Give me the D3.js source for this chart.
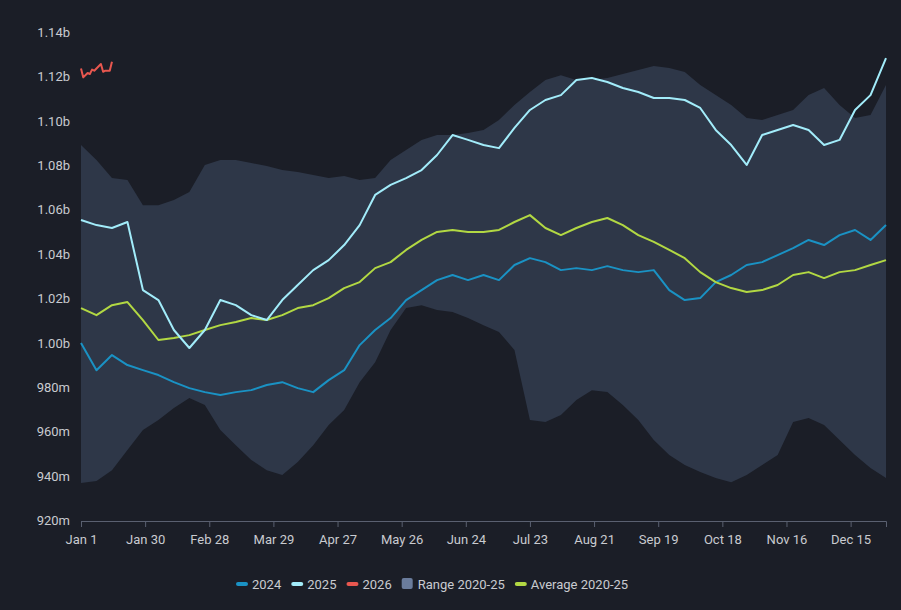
<!DOCTYPE html>
<html>
<head>
<meta charset="utf-8">
<script src="https://cdn.jsdelivr.net/npm/d3@7"></script>
<style>
  body { margin: 0; background: #1b1e27; }
  svg { display: block; font-family: Roboto, sans-serif; }
</style>
</head>
<body>
<svg id="chart" width="901" height="610"></svg>
<script>
// weekly points (day = 7 * i), values in millions
var rangeHigh = [1089.5,1082.7,1074.6,1073.7,1062.4,1062.4,1064.7,1068.3,1080.5,1082.7,1082.7,1081.4,1080,1078.2,1077.3,1076,1074.6,1075.5,1073.7,1074.6,1082.7,1087.2,1091.8,1094,1094,1094.9,1096.3,1100.8,1107.5,1113.4,1118.8,1121,1118.8,1118.8,1119.7,1121.5,1123.3,1125.1,1124.2,1122.4,1116.6,1112,1107.5,1101.7,1100.8,1103,1105.3,1112,1115.2,1107.5,1101.7,1103,1116.6];
var rangeLow = [937.1,938.0,942.9,952.0,961.0,965.5,970.9,975.4,972.3,961.0,954.2,947.5,942.9,940.7,946.6,954.2,963.3,970.0,982.6,991.6,1006.1,1016.0,1017.3,1015.1,1014.2,1011.5,1008.3,1005.2,997.1,965.5,964.6,967.8,974.5,979.0,978.1,972.3,965.5,956.5,949.7,945.2,942.1,939.4,937.5,940.7,945.2,949.7,964.6,966.4,963.3,956.5,949.7,943.9,939.4];
var y2024 = [1000.2,988.0,994.8,990.3,988.0,985.8,982.6,979.9,978.1,976.8,978.1,979.0,981.3,982.6,979.9,978.1,983.5,988.0,999.3,1006.1,1011.5,1019.6,1024.1,1028.6,1030.9,1028.6,1030.9,1028.6,1035.4,1038.5,1036.7,1033.1,1034.0,1033.1,1034.9,1033.1,1032.2,1033.1,1024.1,1019.6,1020.5,1027.7,1030.9,1035.4,1036.7,1039.9,1043.0,1046.7,1044.4,1048.9,1051.2,1046.7,1053.4];
var y2025 = [1055.7,1053.4,1052.1,1054.8,1024.1,1019.6,1006.1,998.0,1006.1,1019.6,1017.3,1012.8,1010.6,1019.6,1026.4,1033.1,1037.6,1044.4,1053.4,1067.0,1071.5,1074.6,1078.2,1085.0,1094.0,1091.8,1089.5,1088.1,1097.2,1105.3,1109.8,1112.0,1118.8,1119.7,1117.9,1115.2,1113.4,1110.7,1110.7,1109.8,1106.2,1096.3,1089.5,1080.5,1094.0,1096.3,1098.5,1096.3,1089.5,1091.8,1105.3,1112.0,1128.7];
var avg = [1016.0,1012.8,1017.3,1018.7,1010.6,1001.6,1002.5,1003.8,1006.1,1008.3,1009.7,1011.5,1010.6,1012.8,1016.0,1017.3,1020.5,1025.0,1027.7,1034.0,1036.7,1042.2,1046.7,1050.3,1051.2,1050.3,1050.3,1051.2,1054.8,1057.9,1052.1,1048.9,1052.1,1054.8,1056.6,1053.4,1048.9,1045.8,1042.2,1038.5,1032.2,1027.7,1025.0,1023.2,1024.1,1026.4,1030.9,1032.2,1029.5,1032.2,1033.1,1035.4,1037.6];
var days2026 = [0,1,3,4,5,6,8,9,10,11,13,14];
var y2026 = [1124,1120,1122,1121.5,1123.5,1123,1125,1126,1122.5,1123,1123,1127];
var tickDays = [0,29,58,87,116,145,174,203,232,261,290,319,348];
var tickLabels = ["Jan 1","Jan 30","Feb 28","Mar 29","Apr 27","May 26","Jun 24","Jul 23","Aug 21","Sep 19","Oct 18","Nov 16","Dec 15"];
var yTicks = [920,940,960,980,1000,1020,1040,1060,1080,1100,1120,1140];

var svg = d3.select("#chart");
var x = d3.scaleLinear().domain([0, 364]).range([81, 886]);
var y = d3.scaleLinear().domain([920, 1140]).range([521, 33]);
var wk = function (d, i) { return x(i * 7); };

svg.append("path")
    .datum(rangeHigh)
    .attr("fill", "#2e3748")
    .attr("d", d3.area().x(wk).y0(function (d, i) { return y(rangeLow[i]); }).y1(function (d) { return y(d); }));

function line(data, color, xs) {
    svg.append("path").datum(data)
        .attr("fill", "none").attr("stroke", color).attr("stroke-width", 2)
        .attr("stroke-linejoin", "round")
        .attr("d", d3.line().x(xs || wk).y(function (d) { return y(d); }));
}
line(y2024, "#1a92c4");
line(avg, "#b2d843");
line(y2025, "#a2ecfa");
line(y2026, "#e8574f", function (d, i) { return x(days2026[i]); });

// axes
var xAxis = svg.append("g").attr("transform", "translate(0,521)")
    .call(d3.axisBottom(x).tickValues(tickDays).tickSize(6).tickPadding(8)
        .tickFormat(function (d, i) { return tickLabels[i]; }));
xAxis.select(".domain").attr("stroke", "#5a6070");
xAxis.selectAll(".tick line").attr("stroke", "#5a6070");
xAxis.selectAll("text").attr("fill", "#c9cbd0").attr("font-size", 13).attr("font-family", "Roboto, sans-serif");

svg.append("g").selectAll("text").data(yTicks).join("text")
    .attr("x", 70).attr("y", function (d) { return y(d) + 4; })
    .attr("text-anchor", "end").attr("fill", "#c9cbd0").attr("font-size", 13)
    .text(function (d) { return d >= 1000 ? (d / 1000).toFixed(2) + "b" : d + "m"; });

// legend
var legend = [
    {name: "2024", color: "#1a92c4", sq: false},
    {name: "2025", color: "#a2ecfa", sq: false},
    {name: "2026", color: "#e8574f", sq: false},
    {name: "Range 2020-25", color: "#6a7c9c", sq: true},
    {name: "Average 2020-25", color: "#b2d843", sq: false}
];
var lg = svg.append("g").attr("font-size", 13).attr("fill", "#c9cbd0");
var lx = 236;
legend.forEach(function (d) {
    if (d.sq) lg.append("rect").attr("x", lx).attr("y", 578).attr("width", 11).attr("height", 11).attr("rx", 2).attr("fill", d.color);
    else lg.append("rect").attr("x", lx).attr("y", 582).attr("width", 12).attr("height", 4).attr("rx", 2).attr("fill", d.color);
    var t = lg.append("text").attr("x", lx + 16).attr("y", 589).text(d.name);
    lx += 16 + t.node().getComputedTextLength() + 10;
});
</script>
</body>
</html>
